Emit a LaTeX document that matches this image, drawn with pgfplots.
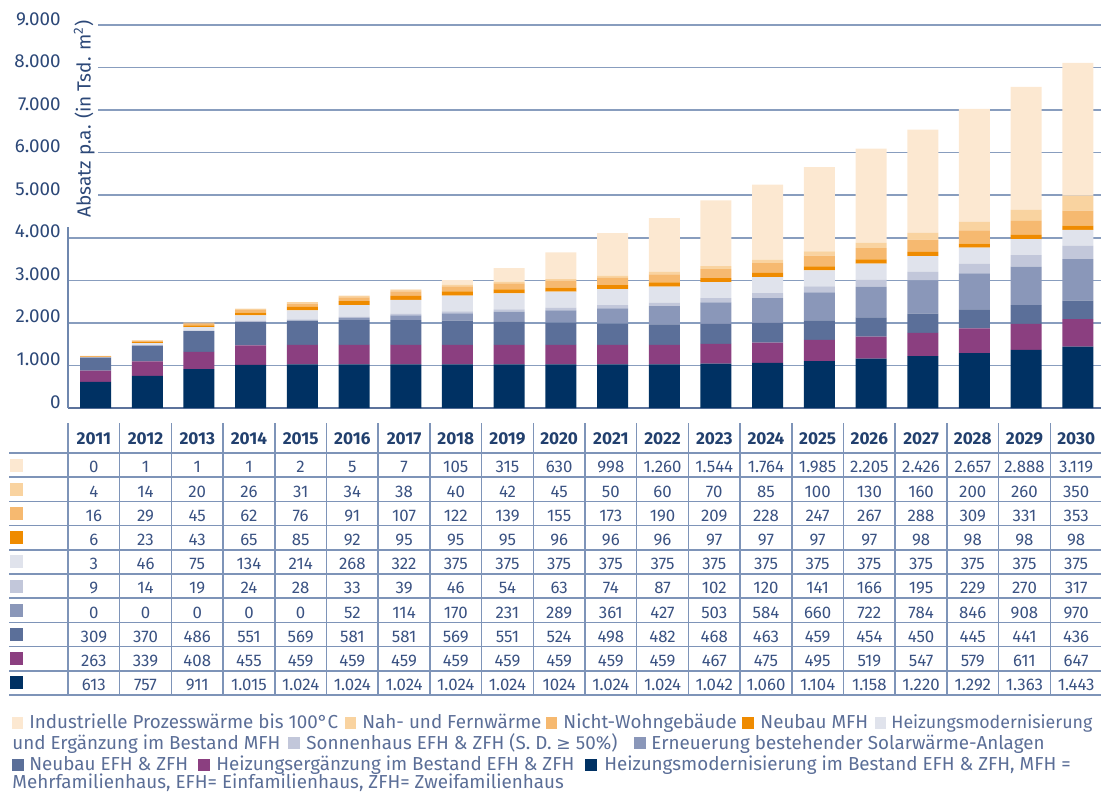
\documentclass[border=0pt]{standalone}
\usepackage{fontspec}
\setmainfont{Fira Sans}
\newfontfamily\djv{DejaVu Sans}
\usepackage{pgfplots}
\usepackage{pgfplotstable}
\pgfplotsset{compat=1.18}

\definecolor{cMod}{HTML}{003163}
\definecolor{cErg}{HTML}{8B3F80}
\definecolor{cNeuEFH}{HTML}{5B6F99}
\definecolor{cErn}{HTML}{8A97B9}
\definecolor{cSon}{HTML}{C2C7DA}
\definecolor{cHzMFH}{HTML}{E0E3EC}
\definecolor{cNeuMFH}{HTML}{EF8B00}
\definecolor{cNWG}{HTML}{F6B970}
\definecolor{cNah}{HTML}{F9D3A0}
\definecolor{cInd}{HTML}{FCE8D1}
\definecolor{cGrid}{HTML}{889DBE}
\definecolor{cVGrid}{HTML}{6F87AE}
\definecolor{cAxis}{HTML}{5C739C}
\definecolor{cTab}{HTML}{7E94B8}
\definecolor{cTick}{HTML}{2C4878}
\definecolor{cLeg}{HTML}{5B6E97}
\definecolor{cNum}{HTML}{3A5282}
\definecolor{cHead}{HTML}{22406E}

\pgfplotstableread{
x  mod  erg  neuefh ern sonnen hzmfh neumfh nwg nah ind
0  613  263  309    0   9      3     6      16  4   0
1  757  339  370    0   14     46    23     29  14  1
2  911  408  486    0   19     75    43     45  20  1
3  1015 455  551    0   24     134   65     62  26  1
4  1024 459  569    0   28     214   85     76  31  2
5  1024 459  581    52  33     268   92     91  34  5
6  1024 459  581    114 39     322   95     107 38  7
7  1024 459  569    170 46     375   95     122 40  105
8  1024 459  551    231 54     375   95     139 42  315
9  1024 459  524    289 63     375   96     155 45  630
10 1024 459  498    361 74     375   96     173 50  998
11 1024 459  482    427 87     375   96     190 60  1260
12 1042 467  468    503 102    375   97     209 70  1544
13 1060 475  463    584 120    375   97     228 85  1764
14 1104 495  459    660 141    375   97     247 100 1985
15 1158 519  454    722 166    375   97     267 130 2205
16 1220 547  450    784 195    375   98     288 160 2426
17 1292 579  445    846 229    375   98     309 200 2657
18 1363 611  441    908 270    375   98     331 260 2888
19 1443 647  436    970 317    375   98     353 350 3119
}\data

\begin{document}
\begin{tikzpicture}[x=0.5pt,y=0.5pt,
  leg/.style={anchor=base west, inner sep=0pt, font=\fontsize{9.4}{11}\selectfont, text=cLeg},
  bs/.style={fill=#1, draw=none, bar shift=0.85pt}]
\useasboundingbox (0,0) rectangle (1101,793);
\begin{axis}[
  at={(34pt,192.5pt)}, anchor=south west,
  scale only axis, width=517pt, height=191.5pt,
  xmin=-0.5, xmax=19.5, ymin=0, ymax=9000,
  ybar stacked, bar width=15.5pt,
  ytick={0,1000,...,9000},
  ymajorgrids, major grid style={color=cGrid, line width=0.8pt},
  xtick=\empty, minor xtick={0.5,1.5,...,18.5}, xminorgrids,
  minor grid style={color=cVGrid, line width=0.75pt},
  axis x line*=bottom, axis y line*=left,
  x axis line style={color=cAxis, line width=1pt, -},
  y axis line style={color=cVGrid, line width=0.75pt, -},
  major tick length=0pt, minor tick length=0pt,
  yticklabel style={anchor=base east, inner sep=0pt, xshift=-3.5pt,
    font=\fontsize{9.4}{11}\selectfont, text=cTick},
  /pgf/number format/1000 sep={.},
  /pgf/number format/assume math mode=true,
]
\addplot[bs=cMod] table[x=x,y=mod]{\data};
\addplot[bs=cErg] table[x=x,y=erg]{\data};
\addplot[bs=cNeuEFH] table[x=x,y=neuefh]{\data};
\addplot[bs=cErn] table[x=x,y=ern]{\data};
\addplot[bs=cSon] table[x=x,y=sonnen]{\data};
\addplot[bs=cHzMFH] table[x=x,y=hzmfh]{\data};
\addplot[bs=cNeuMFH] table[x=x,y=neumfh]{\data};
\addplot[bs=cNWG] table[x=x,y=nwg]{\data};
\addplot[bs=cNah] table[x=x,y=nah]{\data};
\addplot[bs=cInd] table[x=x,y=ind]{\data};
\end{axis}

% y-axis label with white box
\fill[white] (66,566) rectangle (97.5,778);
\node[rotate=90, anchor=base, inner sep=0pt, font=\fontsize{9.5}{11}\selectfont, text=cTick]
  at (90.5,674) {Absatz p.a. (in Tsd. m\textsuperscript{2})};

% table grid
\foreach \k in {0,...,10} \draw[cTab, line width=0.75pt] (9,{340-24.2*\k}) -- (1101,{340-24.2*\k});
\foreach \k in {0,...,19} \draw[cTab, line width=0.75pt] ({68+51.7*\k},370) -- ({68+51.7*\k},98);

% header
\foreach \yr [count=\c from 0] in {2011,...,2030}
  \node[anchor=base, inner sep=0pt, font=\fontsize{8.6}{10}\selectfont\bfseries, text=cHead]
    at ({68+51.7*(\c+0.5)},348.7) {\yr};

% swatches
\foreach \col [count=\r from 0] in {cInd,cNah,cNWG,cNeuMFH,cHzMFH,cSon,cErn,cNeuEFH,cErg,cMod}
  \fill[\col] (10,{328-24.2*\r-6.5}) rectangle (23,{328-24.2*\r+6.5});

% values
\foreach \rowdata [count=\r from 0] in {
 {0,1,1,1,2,5,7,105,315,630,998,1.260,1.544,1.764,1.985,2.205,2.426,2.657,2.888,3.119},
 {4,14,20,26,31,34,38,40,42,45,50,60,70,85,100,130,160,200,260,350},
 {16,29,45,62,76,91,107,122,139,155,173,190,209,228,247,267,288,309,331,353},
 {6,23,43,65,85,92,95,95,95,96,96,96,97,97,97,97,98,98,98,98},
 {3,46,75,134,214,268,322,375,375,375,375,375,375,375,375,375,375,375,375,375},
 {9,14,19,24,28,33,39,46,54,63,74,87,102,120,141,166,195,229,270,317},
 {0,0,0,0,0,52,114,170,231,289,361,427,503,584,660,722,784,846,908,970},
 {309,370,486,551,569,581,581,569,551,524,498,482,468,463,459,454,450,445,441,436},
 {263,339,408,455,459,459,459,459,459,459,459,459,467,475,495,519,547,579,611,647},
 {613,757,911,1.015,1.024,1.024,1.024,1.024,1.024,1024,1.024,1.024,1.042,1.060,1.104,1.158,1.220,1.292,1.363,1.443}}
{
  \foreach \v [count=\c from 0] in \rowdata {
    \node[anchor=base, inner sep=0pt, font=\fontsize{8.4}{10}\selectfont, text=cNum]
      at ({68+51.7*(\c+0.5)},{328-24.2*\r-7.8}) {\v};
  }
}

% legend line 1
\fill[cInd] (12,64.5) rectangle (23,76.5);
\node[leg] at (29,64.5) {Industrielle Prozesswärme bis 100°C};
\fill[cNah] (345,64.5) rectangle (356,76.5);
\node[leg] at (362,64.5) {Nah- und Fernwärme};
\fill[cNWG] (546,64.5) rectangle (557,76.5);
\node[leg] at (563,64.5) {Nicht-Wohngebäude};
\fill[cNeuMFH] (742,64.5) rectangle (754,76.5);
\node[leg] at (760,64.5) {Neubau MFH};
\fill[cHzMFH] (875,64.5) rectangle (886,76.5);
\node[leg, font=\fontsize{8.9}{11}\selectfont] at (891,64.5) {Heizungsmodernisierung};
% line 2
\node[leg] at (12,44) {und Ergänzung im Bestand MFH};
\fill[cSon] (288,44) rectangle (300,56);
\node[leg] at (306,44) {Sonnenhaus EFH \& ZFH (S. D. {\djv\fontsize{8.6}{10}\selectfont≥} 50\%)};
\fill[cErn] (634,44) rectangle (646,56);
\node[leg] at (651,44) {Erneuerung bestehender Solarwärme-Anlagen};
% line 3
\fill[cNeuEFH] (12,22.5) rectangle (24,34.5);
\node[leg] at (29,22.5) {Neubau EFH \& ZFH};
\fill[cErg] (198,22.5) rectangle (210,34.5);
\node[leg] at (216,22.5) {Heizungsergänzung im Bestand EFH \& ZFH};
\fill[cMod] (585,22.5) rectangle (597,34.5);
\node[leg] at (604,22.5) {Heizungsmodernisierung im Bestand EFH \& ZFH, MFH =};
% line 4
\node[leg] at (12,4.5) {Mehrfamilienhaus, EFH= Einfamilienhaus, ZFH= Zweifamilienhaus};
\end{tikzpicture}
\end{document}
